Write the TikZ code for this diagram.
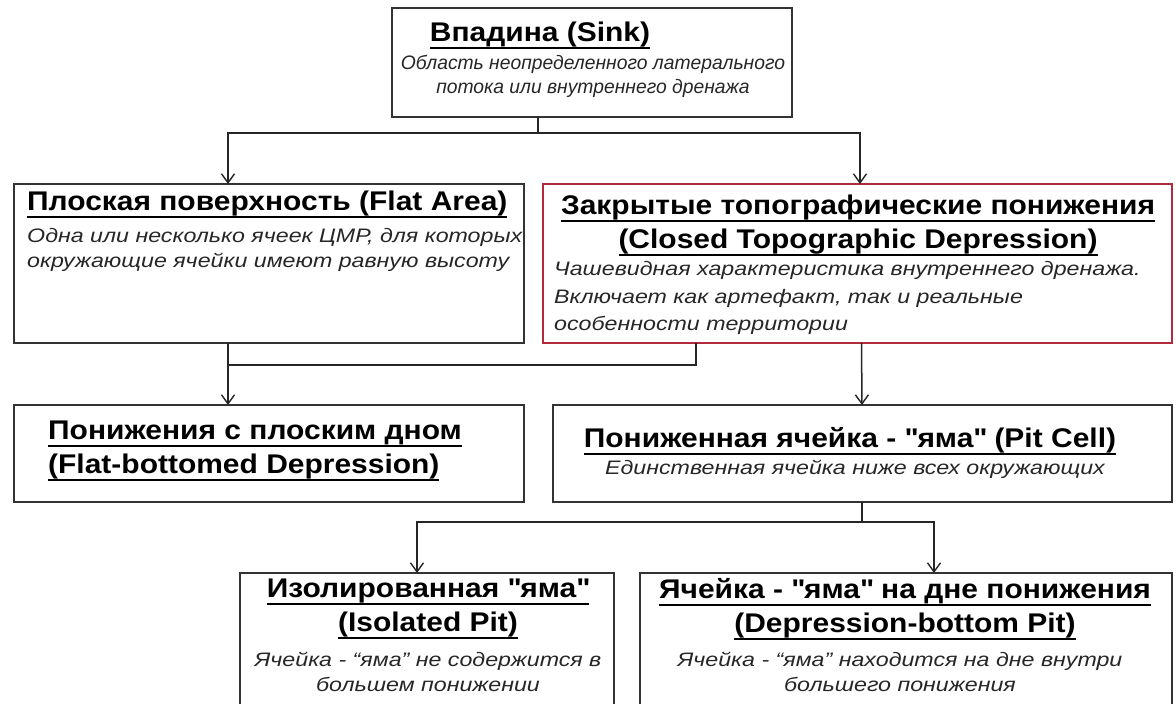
\documentclass[tikz,border=0pt]{standalone}
\usepackage{fontspec}
\setmainfont{Liberation Sans}
\newfontfamily\ttlfont{Liberation Sans}[FakeStretch=1.11]
\newfontfamily\dscfont{Liberation Sans}[FakeStretch=1.19]
\newfontfamily\sinkfont{Liberation Sans}[FakeStretch=0.99]
\usetikzlibrary{arrows.meta}
\definecolor{boxgray}{HTML}{333333}
\definecolor{deepred}{HTML}{B22A3E}
% thick underline for the titles
\newcommand{\tul}[1]{\leavevmode\setbox0=\hbox{#1}\rlap{\vrule width \wd0 height -5.5pt depth 7.5pt}\box0}
\newcommand{\qd}{\textquotedbl}

\tikzset{
  box/.style={draw=boxgray, line width=1.7pt, anchor=north west, inner sep=0pt, outer sep=0pt},
  ttl/.style={font=\ttlfont\fontsize{27}{34}\selectfont\bfseries, inner sep=0pt},
  dsc/.style={font=\dscfont\fontsize{19.5}{25}\selectfont\itshape, text=black!85, inner sep=0pt},
  conn/.style={draw=black!85, line width=1.5pt},
  arr/.style={conn, -{Straight Barb[length=9pt,width=13pt,line width=1.4pt]}},
}

\begin{document}
\begin{tikzpicture}[x=1pt,y=-1pt]
\useasboundingbox (0,0) rectangle (1176,704);
\clip (0,0) rectangle (1176,704);

% boxes
\node[box, minimum width=400pt, minimum height=109pt] (sink) at (392,8) {};
\node[box, minimum width=510pt, minimum height=159pt] (flat) at (14,184) {};
\node[box, draw=deepred, line width=2.6pt, minimum width=629pt, minimum height=159pt] (closed) at (543,184) {};
\node[box, minimum width=510pt, minimum height=97pt] (flatdep) at (14,405) {};
\node[box, minimum width=619pt, minimum height=97pt] (pit) at (553,405) {};
\node[box, minimum width=374pt, minimum height=140pt] (iso) at (240,573) {};
\node[box, minimum width=532pt, minimum height=140pt] (dbot) at (640,573) {};

% texts
\node[ttl] (sinkT) at (540,35) {\tul{Впадина (Sink)}};
\node[dsc, align=center, font=\sinkfont\fontsize{19.5}{24}\selectfont\itshape] (sinkD) at (593,76) {Область неопределенного латерального\\потока или внутреннего дренажа};

\node[ttl, anchor=west] (flatT) at (27,204) {\tul{Плоская поверхность (Flat Area)}};
\node[dsc, anchor=west, align=left] (flatD) at (27,250) {Одна или несколько ячеек ЦМР, для которых\\окружающие ячейки имеют равную высоту};

\node[ttl, align=center] (closedT) at (858,225) {\tul{Закрытые топографические понижения}\\\tul{(Closed Topographic Depression)}};
\node[dsc, anchor=west, align=left, font=\dscfont\fontsize{19.5}{27.5}\selectfont\itshape] (closedD) at (554,298) {Чашевидная характеристика внутреннего дренажа.\\Включает как артефакт, так и реальные\\особенности территории};

\node[ttl, anchor=west, align=left] (flatdepT) at (48,451) {\tul{Понижения с плоским дном}\\\tul{(Flat-bottomed Depression)}};

\node[ttl] (pitT) at (850,441) {\tul{Пониженная ячейка - \qd яма\qd{} (Pit Cell)}};
\node[dsc] (pitD) at (855,469) {Единственная ячейка ниже всех окружающих};

\node[ttl, align=center] (isoT) at (428,609) {\tul{Изолированная \qd яма\qd}\\\tul{(Isolated Pit)}};
\node[dsc, align=center] (isoD) at (428,672) {Ячейка - “яма” не содержится в\\большем понижении};

\node[ttl, align=center] (dbotT) at (905,609) {\tul{Ячейка - \qd яма\qd{} на дне понижения}\\\tul{(Depression-bottom Pit)}};
\node[dsc, align=center] (dbotD) at (900,672) {Ячейка - “яма” находится на дне внутри\\большего понижения};

% connectors
\draw[conn] ([xshift=-54pt]sink.south) -- ++(0,16) coordinate (j1);
\draw[arr] (j1) -| ([xshift=-41pt]flat.north);
\draw[arr] (j1) -| ([xshift=2.5pt]closed.north);

\draw[conn] ([xshift=-41pt]flat.south) -- ++(0,22) coordinate (j2);
\draw[conn] ([xshift=-161.5pt]closed.south) |- (j2);
\draw[arr] (j2) -- ([xshift=-41pt]flatdep.north);
\draw[arr] ([xshift=4pt]closed.south) -- ([xshift=-0.5pt]pit.north);

\draw[conn] ([xshift=-0.5pt]pit.south) -- ++(0,20) coordinate (j3);
\draw[arr] (j3) -| ([xshift=-10pt]iso.north);
\draw[arr] (j3) -| ([xshift=28pt]dbot.north);
\end{tikzpicture}
\end{document}
